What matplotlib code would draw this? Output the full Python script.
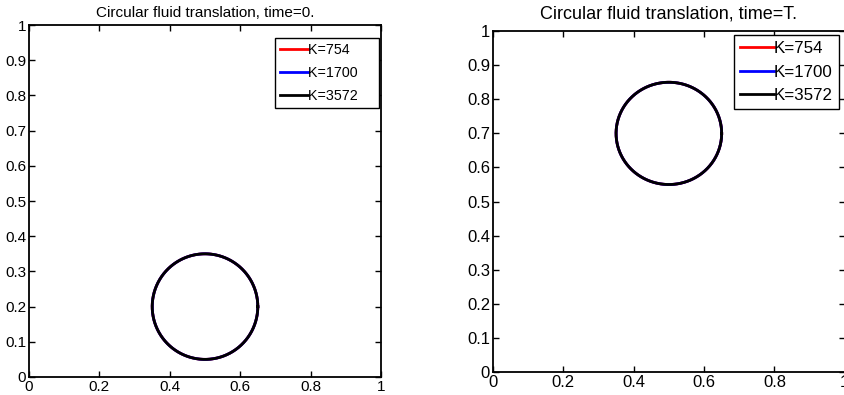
import numpy as np
import matplotlib
matplotlib.use('Agg')
import matplotlib.pyplot as plt

plt.rcParams['font.family'] = ['Liberation Sans', 'DejaVu Sans']

# --- data ---
labels = ['K=754', 'K=1700', 'K=3572']
colors = ['red', 'blue', 'black']
n_points = [754, 1700, 3572]
radius = 0.15
center_t0 = (0.5, 0.2)
center_tT = (0.5, 0.7)
ticks_x = [0, 0.2, 0.4, 0.6, 0.8, 1]
ticks_y = [0, 0.1, 0.2, 0.3, 0.4, 0.5, 0.6, 0.7, 0.8, 0.9, 1]
tick_labels_x = ['0', '0.2', '0.4', '0.6', '0.8', '1']
tick_labels_y = ['0', '0.1', '0.2', '0.3', '0.4', '0.5', '0.6', '0.7', '0.8', '0.9', '1']


def draw_panel(ax, center, title, fs_tick, fs_title, title_pad, fs_leg, hlen, anchor, extra, lspace):
    for lab, col, k in zip(labels, colors, n_points):
        th = np.linspace(0, 2 * np.pi, k)
        ax.plot(center[0] + radius * np.cos(th), center[1] + radius * np.sin(th),
                color=col, lw=2, label=lab + extra)
    ax.set_xlim(0, 1)
    ax.set_ylim(0, 1)
    ax.set_xticks(ticks_x)
    ax.set_xticklabels(tick_labels_x)
    ax.set_yticks(ticks_y)
    ax.set_yticklabels(tick_labels_y)
    ax.tick_params(direction='in', top=True, right=True, length=4, width=1,
                   labelsize=fs_tick, pad=2)
    for sp in ax.spines.values():
        sp.set_linewidth(1.3)
    ax.set_title(title, fontsize=fs_title, pad=title_pad)
    leg = ax.legend(loc='upper right', bbox_to_anchor=anchor, fontsize=fs_leg,
                    fancybox=False, edgecolor='black', framealpha=1,
                    handlelength=hlen, handletextpad=0.0, borderaxespad=0,
                    borderpad=0.35, labelspacing=lspace)
    leg.get_frame().set_linewidth(1.0)


fig = plt.figure(figsize=(8.44, 3.95), dpi=100)
ax1 = fig.add_axes([0.0344, 0.0456, 0.417, 0.891])
ax2 = fig.add_axes([0.584, 0.0582, 0.417, 0.863])

draw_panel(ax1, center_t0, 'Circular fluid translation, time=0.', 11, 11, 6,
           10.3, 1.95, (0.994, 0.963), '    ', 0.62)
draw_panel(ax2, center_tT, 'Circular fluid translation, time=T.', 12, 13, 9,
           12.2, 2.0, (0.983, 0.988), '', 0.5)

plt.savefig('out.png', dpi=100)
